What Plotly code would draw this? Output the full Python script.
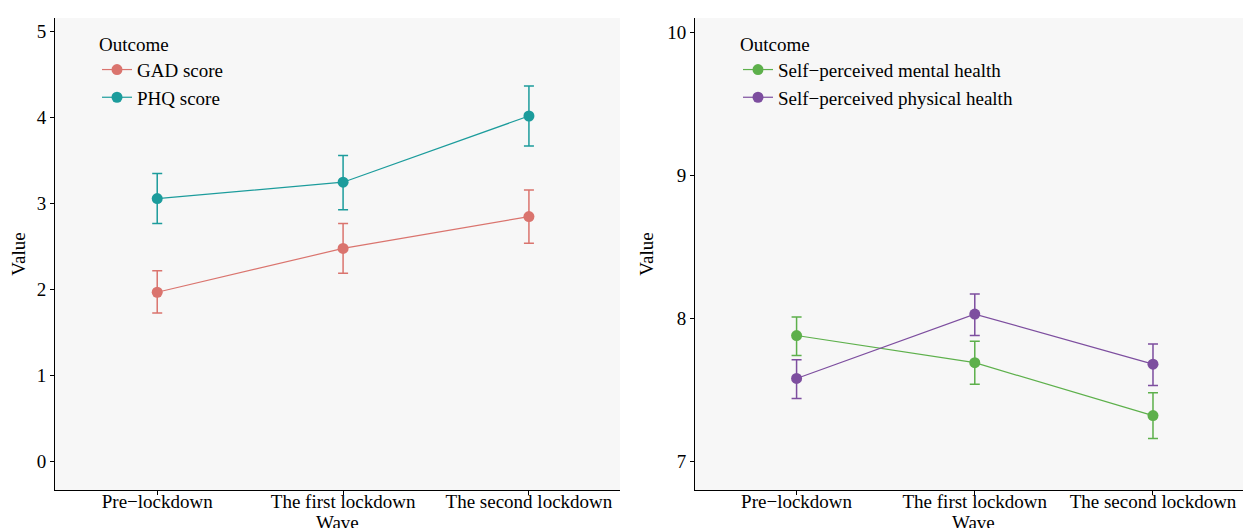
import plotly.graph_objects as go

waves = ["Pre\u2212lockdown", "The first lockdown", "The second lockdown"]
gad = [1.97, 2.48, 2.85]; gad_lo = [1.73, 2.19, 2.54]; gad_hi = [2.22, 2.77, 3.16]
phq = [3.06, 3.25, 4.02]; phq_lo = [2.77, 2.93, 3.67]; phq_hi = [3.35, 3.56, 4.37]
mental = [7.88, 7.69, 7.32]; mental_lo = [7.74, 7.54, 7.16]; mental_hi = [8.01, 7.84, 7.48]
phys = [7.58, 8.03, 7.68]; phys_lo = [7.44, 7.88, 7.53]; phys_hi = [7.71, 8.17, 7.82]

OFF = 8
W, H = 1251 - OFF, 528 - OFF
fig = go.Figure()

def add(name, y, lo, hi, color, xa, ya, leg):
    fig.add_trace(go.Scatter(
        x=[0, 1, 2], y=y, name=name, mode="lines+markers",
        line=dict(color=color, width=1.2), marker=dict(color=color, size=11),
        error_y=dict(type="data", symmetric=False,
                     array=[h - v for h, v in zip(hi, y)],
                     arrayminus=[v - l for v, l in zip(y, lo)],
                     color=color, thickness=1.5, width=5),
        xaxis=xa, yaxis=ya, legend=leg))

add("GAD score", gad, gad_lo, gad_hi, "#DA746E", "x", "y", "legend")
add("PHQ score", phq, phq_lo, phq_hi, "#1C9C9C", "x", "y", "legend")
add("Self\u2212perceived mental health", mental, mental_lo, mental_hi, "#5DB04B", "x2", "y2", "legend2")
add("Self\u2212perceived physical health", phys, phys_lo, phys_hi, "#7D4E9F", "x2", "y2", "legend2")

def px(x): return (x - OFF) / W
def py(y): return 1 - (y - OFF) / H

font = dict(family="Liberation Serif", size=19, color="black")
ydom = [py(490), py(18)]
axcommon = dict(showline=True, linecolor="black", linewidth=1, ticks="outside",
                ticklen=4, tickcolor="black", showgrid=False, zeroline=False,
                tickfont=font, automargin=False)
fig.update_layout(
    width=W, height=H, margin=dict(l=0, r=0, t=0, b=0, autoexpand=False),
    paper_bgcolor="white", plot_bgcolor="#F7F7F7", font=font,
    xaxis=dict(domain=[px(55), px(620)], range=[-0.55, 2.49], tickvals=[0, 1, 2],
               ticktext=waves, anchor="y", ticklabelstandoff=-10, **axcommon),
    yaxis=dict(domain=ydom, range=[-0.33, 5.16], tickvals=[0, 1, 2, 3, 4, 5], anchor="x",
               title=dict(text="Value", font=font, standoff=8), **axcommon),
    xaxis2=dict(domain=[px(695), 1], range=[-0.57, 2.55], tickvals=[0, 1, 2],
                ticktext=waves, anchor="y2", ticklabelstandoff=-10, **axcommon),
    yaxis2=dict(domain=ydom, range=[6.8, 10.1], tickvals=[7, 8, 9, 10], anchor="x2",
                title=dict(text="Value", font=font, standoff=8), **axcommon),
    legend=dict(x=px(97), y=py(26), xanchor="left", yanchor="top", bgcolor="rgba(0,0,0,0)",
                title=dict(text="Outcome", font=font), font=font),
    legend2=dict(x=px(738), y=py(26), xanchor="left", yanchor="top", bgcolor="rgba(0,0,0,0)",
                 title=dict(text="Outcome", font=font), font=font),
    annotations=[
        dict(text="Wave", xref="x domain", yref="paper", x=0.5, y=py(510), yanchor="top",
             showarrow=False, font=font),
        dict(text="Wave", xref="x2 domain", yref="paper", x=0.5, y=py(510), yanchor="top",
             showarrow=False, font=font),
    ],
)
fig.write_html("out.html")
